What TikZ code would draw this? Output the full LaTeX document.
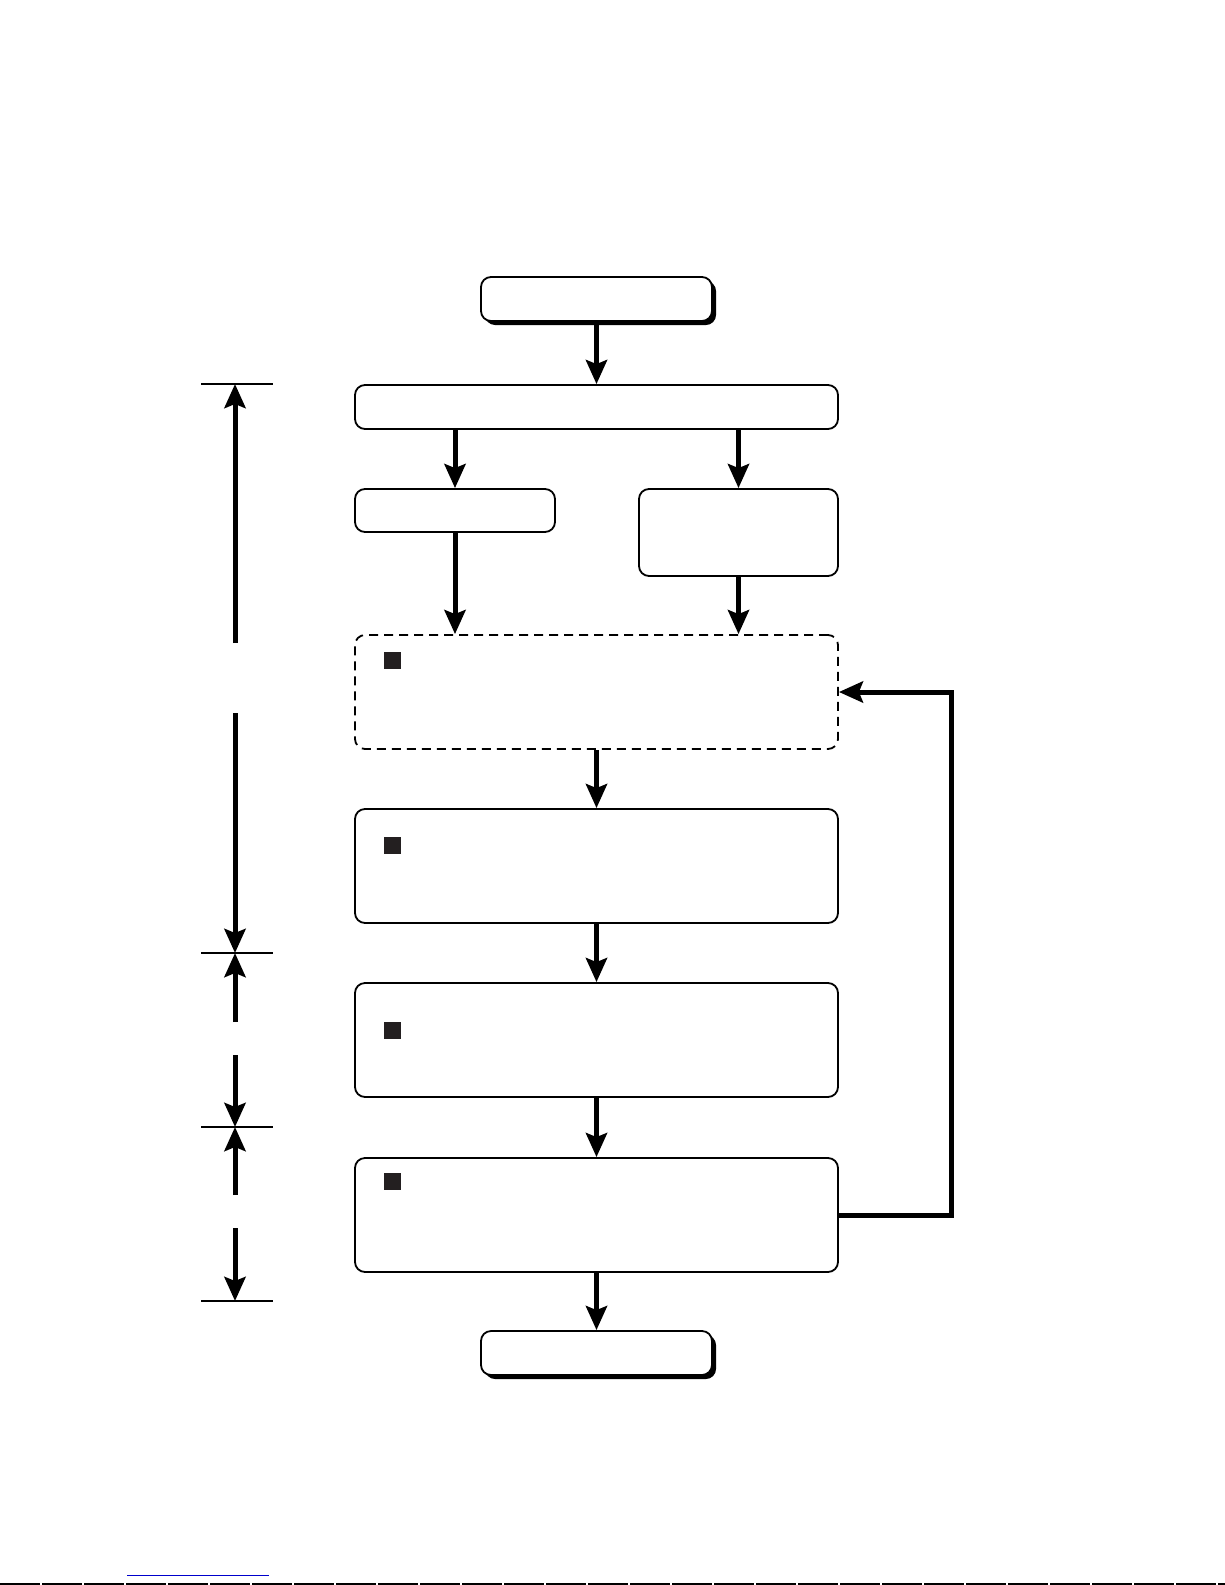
\documentclass[tikz,border=0pt]{standalone}
\usetikzlibrary{arrows.meta,shadows}
\definecolor{sqfill}{RGB}{35,31,32}
\definecolor{linkblue}{RGB}{0,0,204}
\begin{document}
\begin{tikzpicture}[x=1pt, y=-1pt,
  box/.style={draw, line width=1.8pt, rounded corners=10pt, fill=white, inner sep=0pt},
  term/.style={box, drop shadow={shadow xshift=4pt, shadow yshift=-4pt, fill=black, opacity=1}},
  flow/.style={line width=5pt, -{Stealth[length=24pt, width=21pt, inset=4pt]}},
  tickline/.style={line width=2pt},
  sq/.style={fill=sqfill, minimum size=17pt, inner sep=0pt}]
\useasboundingbox (0,0) rectangle (1225,1585);
% boxes
\node[term, minimum width=231pt, minimum height=44pt] (start) at (596.5,299) {};
\node[box, minimum width=483pt, minimum height=44pt] (wide) at (596.5,407) {};
\node[box, minimum width=200pt, minimum height=43pt] (left) at (455,510.5) {};
\node[box, minimum width=199pt, minimum height=87pt] (right) at (738.5,532.5) {};
\node[box, dash pattern=on 9pt off 6pt, minimum width=483pt, minimum height=114pt] (loop) at (596.5,692) {};
\node[box, minimum width=483pt, minimum height=114pt] (b2) at (596.5,866) {};
\node[box, minimum width=483pt, minimum height=114pt] (b3) at (596.5,1040) {};
\node[box, minimum width=483pt, minimum height=114pt] (b4) at (596.5,1215) {};
\node[term, minimum width=231pt, minimum height=44pt] (stop) at (596.5,1353) {};
% squares
\node[sq] (s1) at (392.5,660.5) {};
\node[sq] (s2) at (392.5,845) {};
\node[sq] (s3) at (392.5,1030.5) {};
\node[sq] (s4) at (392.5,1181.5) {};
% flow
\draw[flow] (start.south) -- (wide.north);
\draw[flow] (wide.south -| left.north) -- (left.north);
\draw[flow] (wide.south -| right.north) -- (right.north);
\draw[flow] (left.south) -- (loop.north -| left.south);
\draw[flow] (right.south) -- (loop.north -| right.south);
\draw[flow] (loop.south) -- (b2.north);
\draw[flow] (b2.south) -- (b3.north);
\draw[flow] (b3.south) -- (b4.north);
\draw[flow] (b4.south) -- (stop.north);
\draw[flow, rounded corners=0pt] (b4.east) -- ++(113,0) coordinate (fb) |- (loop.east);
% span marks
\coordinate (t1) at (235,384);
\coordinate (t2) at (235,953);
\coordinate (t3) at (235,1127);
\coordinate (t4) at (235,1301);
\foreach \t in {t1,t2,t3,t4}
  \draw[tickline] ([xshift=-34pt]\t) -- ([xshift=38pt]\t);
\coordinate (g1a) at (235,643);
\coordinate (g1b) at (235,713);
\coordinate (g2a) at (235,1022);
\coordinate (g2b) at (235,1055);
\coordinate (g3a) at (235,1195);
\coordinate (g3b) at (235,1228);
\draw[flow] (g1a) -- (t1);
\draw[flow] (g1b) -- (t2);
\draw[flow] (g2a) -- (t2);
\draw[flow] (g2b) -- (t3);
\draw[flow] (g3a) -- (t3);
\draw[flow] (g3b) -- (t4);
% page edge
\draw[linkblue, line width=1.5pt] (127,1575.5) -- (269,1575.5);
\draw[line width=2pt, dash pattern=on 40pt off 2pt] (0,1584) -- (1225,1584);
\end{tikzpicture}
\end{document}
